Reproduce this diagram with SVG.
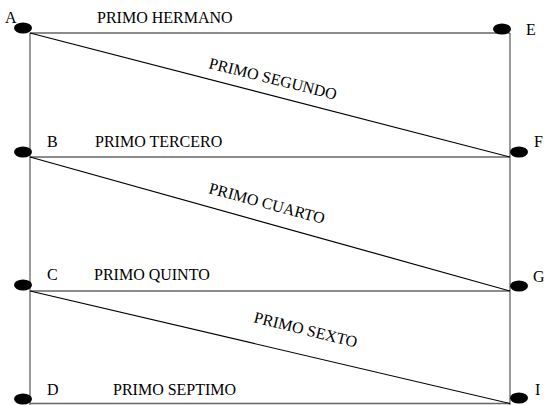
<svg xmlns="http://www.w3.org/2000/svg" width="544" height="405" viewBox="0 0 544 405">
<style>
text{font-family:"Liberation Serif","Times New Roman",serif;font-size:16px;fill:#000}
.frame{stroke:#666;stroke-width:1.3;fill:none}
.diag{stroke:#000;stroke-width:1.2;fill:none}
.dot{fill:#000}
</style>
<rect width="544" height="405" fill="#fff"/>
<g id="connectors">
<line class="frame" x1="30" y1="33" x2="510" y2="33"/>
<line class="frame" x1="30" y1="33" x2="30" y2="405"/>
<line class="frame" x1="510" y1="33" x2="510" y2="405"/>
<line class="frame" x1="30" y1="157" x2="510" y2="157"/>
<line class="frame" x1="30" y1="291" x2="510" y2="291"/>
<line class="frame" x1="30" y1="403.5" x2="510" y2="403.5"/>
<line class="diag" x1="30" y1="33" x2="510" y2="157"/>
<line class="diag" x1="30" y1="157" x2="510" y2="291"/>
<line class="diag" x1="30" y1="291" x2="510" y2="403.5"/>
<text x="97" y="23">PRIMO HERMANO</text>
<text x="95" y="147">PRIMO TERCERO</text>
<text x="94" y="280">PRIMO QUINTO</text>
<text x="113" y="395">PRIMO SEPTIMO</text>
<text transform="translate(208,68) rotate(14)">PRIMO SEGUNDO</text>
<text transform="translate(208,193) rotate(15)">PRIMO CUARTO</text>
<text transform="translate(253,322) rotate(14)">PRIMO SEXTO</text>
</g>
<g id="A"><ellipse class="dot" cx="23" cy="28" rx="9" ry="5.5"/><text x="5" y="23">A</text></g>
<g id="E"><ellipse class="dot" cx="502" cy="29" rx="9" ry="5.5"/><text x="526" y="35">E</text></g>
<g id="B"><ellipse class="dot" cx="23" cy="152" rx="9" ry="5.5"/><text x="47" y="147">B</text></g>
<g id="F"><ellipse class="dot" cx="519" cy="152" rx="9" ry="5.5"/><text x="534" y="147">F</text></g>
<g id="C"><ellipse class="dot" cx="23" cy="285" rx="9" ry="5.5"/><text x="47" y="280">C</text></g>
<g id="G"><ellipse class="dot" cx="519" cy="286" rx="9" ry="5.5"/><text x="533" y="282">G</text></g>
<g id="D"><ellipse class="dot" cx="23" cy="399" rx="9" ry="5.5"/><text x="47" y="395">D</text></g>
<g id="I"><ellipse class="dot" cx="519" cy="398" rx="9" ry="5.5"/><text x="535" y="395">I</text></g>
</svg>
